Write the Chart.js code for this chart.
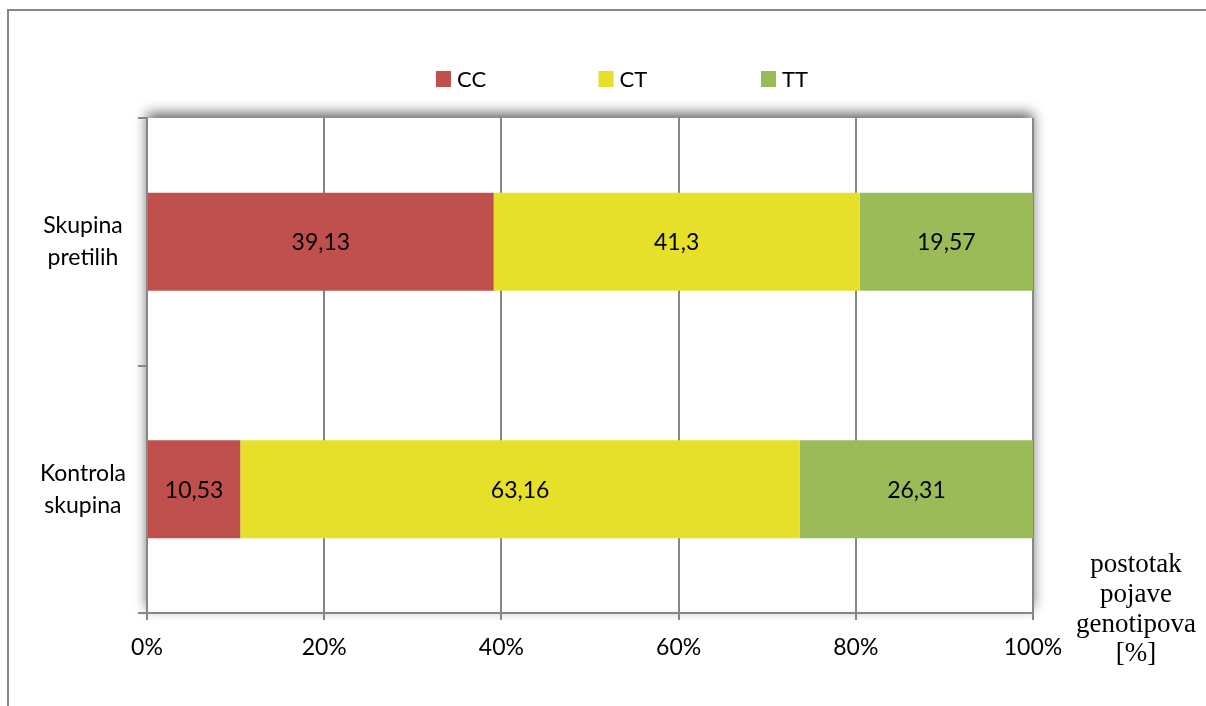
<!DOCTYPE html>
<html>
<head>
<meta charset="utf-8">
<script src="https://cdn.jsdelivr.net/npm/chart.js@4"></script>
<style>
  body { margin: 0; background: #fff; }
  canvas { display: block; }
</style>
</head>
<body>
<canvas id="chart" width="1206" height="706"></canvas>
<script>
// data
const categories = [["Skupina", "pretilih"], ["Kontrola", "skupina"]];
const seriesNames = ["CC", "CT", "TT"];
const ccValues = [39.13, 10.53];
const ctValues = [41.3, 63.16];
const ttValues = [19.57, 26.31];
const xTicks = [0, 20, 40, 60, 80, 100];
const axisTitle = ["postotak", "pojave", "genotipova", "[%]"];

const colors = ["#C0504D", "#E6E02A", "#9BBB59"];
const gridGray = "#868686";
const sansFont = "Lato, 'Liberation Sans', sans-serif";

function fmt(v) {
  return String(v).replace(".", ",");
}

// frame round the whole chart + shadow behind the plot area
const backdrop = {
  id: "backdrop",
  beforeDraw(chart) {
    const ctx = chart.ctx;
    const a = chart.chartArea;
    ctx.save();
    ctx.strokeStyle = gridGray;
    ctx.lineWidth = 2;
    ctx.strokeRect(8, 10, 1400, 1000);
    ctx.shadowColor = "rgba(0,0,0,0.6)";
    ctx.shadowBlur = 12;
    ctx.shadowOffsetY = -5;
    ctx.fillStyle = "#fff";
    ctx.fillRect(a.left, a.top, a.right - a.left, a.bottom - a.top);
    ctx.restore();
  },
};

// legend on top, spread wide like the original
const topLegend = {
  id: "topLegend",
  afterDraw(chart) {
    const ctx = chart.ctx;
    ctx.save();
    ctx.font = "22px " + sansFont;
    ctx.textBaseline = "middle";
    ctx.textAlign = "left";
    chart.data.datasets.forEach((ds, i) => {
      const x = 436 + i * 162.5;
      ctx.fillStyle = ds.backgroundColor;
      ctx.fillRect(x, 71, 15, 16);
      ctx.fillStyle = "#000";
      ctx.fillText(ds.label, x + 21, 80);
    });
    ctx.restore();
  },
};

// value labels in the middle of each segment
const barLabels = {
  id: "barLabels",
  afterDatasetsDraw(chart) {
    const ctx = chart.ctx;
    ctx.save();
    ctx.font = "23px " + sansFont;
    ctx.fillStyle = "#000";
    ctx.textAlign = "center";
    ctx.textBaseline = "middle";
    chart.data.datasets.forEach((ds, i) => {
      chart.getDatasetMeta(i).data.forEach((bar, j) => {
        ctx.fillText(fmt(ds.data[j]), (bar.x + bar.base) / 2, bar.y + 1);
      });
    });
    ctx.restore();
  },
};

// axis title sits to the right of the x axis, in a serif face
const sideTitle = {
  id: "sideTitle",
  afterDraw(chart) {
    const ctx = chart.ctx;
    ctx.save();
    ctx.font = "27px 'Liberation Serif', 'DejaVu Serif', serif";
    ctx.fillStyle = "#000";
    ctx.textAlign = "center";
    ctx.textBaseline = "alphabetic";
    axisTitle.forEach((line, i) => {
      ctx.fillText(line, 1136, 572 + i * 29.8);
    });
    ctx.restore();
  },
};

new Chart(document.getElementById("chart"), {
  type: "bar",
  data: {
    labels: categories,
    datasets: [
      { label: seriesNames[0], data: ccValues, backgroundColor: colors[0] },
      { label: seriesNames[1], data: ctValues, backgroundColor: colors[1] },
      { label: seriesNames[2], data: ttValues, backgroundColor: colors[2] },
    ],
  },
  options: {
    indexAxis: "y",
    responsive: false,
    animation: false,
    layout: { padding: { left: 0, right: 173, top: 118, bottom: 0 } },
    datasets: {
      bar: { categoryPercentage: 1, barPercentage: 0.396, borderWidth: 0 },
    },
    plugins: {
      legend: { display: false },
      tooltip: { enabled: false },
    },
    scales: {
      x: {
        stacked: true,
        min: 0,
        max: 100,
        afterBuildTicks(axis) {
          axis.ticks = xTicks.map((v) => ({ value: v }));
        },
        afterFit(axis) {
          axis.height = 93;
        },
        ticks: {
          callback: (v) => v + "%",
          color: "#000",
          font: { family: sansFont, size: 23 },
          padding: 14,
          maxRotation: 0,
        },
        grid: { color: gridGray, lineWidth: 2, tickLength: 7 },
        border: { color: gridGray, width: 2 },
      },
      y: {
        stacked: true,
        afterFit(axis) {
          axis.width = 147;
        },
        ticks: {
          color: "#000",
          font: { family: sansFont, size: 23, lineHeight: 1.4 },
          crossAlign: "center",
          padding: 12,
        },
        grid: {
          offset: true,
          drawOnChartArea: false,
          color: gridGray,
          lineWidth: 2,
          tickLength: 9,
        },
        border: { color: gridGray, width: 2 },
      },
    },
  },
  plugins: [backdrop, topLegend, barLabels, sideTitle],
});
</script>
</body>
</html>
